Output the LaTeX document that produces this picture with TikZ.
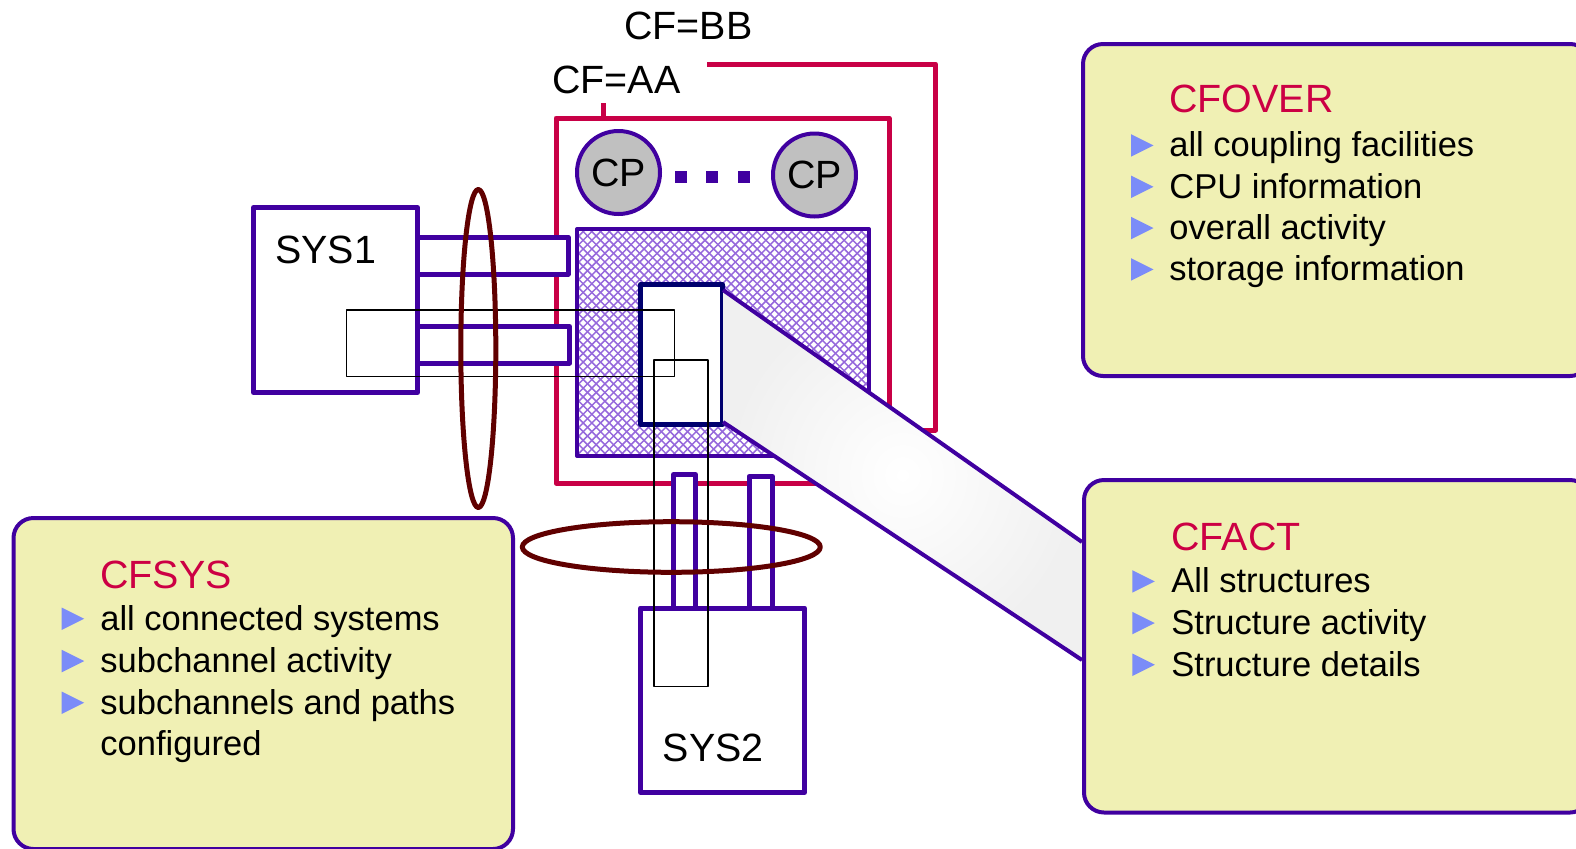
\documentclass[tikz,border=0pt]{standalone}
\usepackage{fontspec}
\setmainfont{Liberation Sans}
\definecolor{pur}{RGB}{64,0,160}
\definecolor{cfred}{RGB}{200,0,70}
\definecolor{titlered}{RGB}{204,0,68}
\definecolor{notefill}{RGB}{240,240,180}
\definecolor{bulblue}{RGB}{123,140,248}
\definecolor{ringred}{RGB}{96,0,0}
\definecolor{navyc}{RGB}{0,0,110}
\definecolor{hatchc}{RGB}{150,105,220}
\definecolor{cpgray}{RGB}{192,192,192}
\tikzset{
  cfline/.style={draw=cfred, line width=2.5pt},
  sysbox/.style={draw=pur, line width=2.5pt, fill=white, inner sep=0pt},
  linkbox/.style={draw=pur, line width=2.5pt, fill=white},
  cpcircle/.style={circle, draw=pur, line width=2pt, fill=cpgray, minimum size=41.5pt, inner sep=0pt, font=\fontsize{19.7pt}{23pt}\selectfont},
  ringline/.style={draw=ringred, line width=2.5pt},
  thinbox/.style={draw=black, line width=0.75pt},
  notebox/.style={draw=pur, line width=2pt, fill=notefill, rounded corners=10pt, inner sep=0pt},
  lbl/.style={inner sep=0pt, anchor=base west, font=\fontsize{19.7pt}{23pt}\selectfont},
  ttlstyle/.style={lbl, text=titlered},
  itemstyle/.style={inner sep=0pt, anchor=base west, font=\fontsize{17.25pt}{20pt}\selectfont},
  hatchline/.style={draw=hatchc, line width=0.75pt},
  bullet/.pic={\fill[bulblue] (0,0) -- (0,-22.5) -- (22.5,-11.25) -- cycle;}
}
\begin{document}
\begin{tikzpicture}[x=0.5pt,y=-0.5pt,line join=round]
\useasboundingbox (0,0) rectangle (1576,848);

% CF=BB outline
\draw[cfline] (707,64) -- (935.5,64) -- (935.5,430) -- (889,430);
% CF=AA box
\draw[cfline] (556,118) rectangle (889,483);
\draw[cfline] (603,103) -- (603,118);

% CPs
\node[cpcircle] (cp1) at (618.5,172.5) {CP};
\node[cpcircle] (cp2) at (814.5,175) {CP};
\foreach \dx in {681,712,744} \fill[pur] (\dx-6,171) rectangle (\dx+6,183);

% hatched storage
\begin{scope}
\clip (577,229) rectangle (869,456);
\fill[white] (577,229) rectangle (869,456);
\foreach \k in {0,...,64} {
  \draw[hatchline] ({337+\k*8.7},229) -- ++(240,240);
  \draw[hatchline] ({577+\k*8.7},229) -- ++(-240,240);
}
\end{scope}
\draw[pur, line width=2pt] (577,229) rectangle (869,456);

% structure
\node[sysbox, draw=navyc, minimum width=41pt, minimum height=70pt] (str) at (681.5,354.5) {};

% funnel
\coordinate (f1) at (723,290);
\coordinate (f2) at (1082,542);
\coordinate (f3) at (1082,660);
\coordinate (f4) at (723,422);
\shade[inner color=white, outer color=gray!12] (f1) -- (f2) -- (f3) -- (f4) -- cycle;
\draw[pur, line width=2pt] (f1) -- (f2) (f4) -- (f3);

% SYS1 links and box
\draw[linkbox] (417.5,237) rectangle (568,274);
\draw[linkbox] (417.5,326.5) rectangle (569.5,363);
\node[sysbox, minimum width=82pt, minimum height=92.5pt] (sys1) at (335.5,300) {};

% SYS2 links and box
\draw[linkbox] (673.5,608) -- (673.5,474.5) -- (695.5,474.5) -- (695.5,608);
\draw[linkbox] (749,608) -- (749,476.5) -- (772.5,476.5) -- (772.5,608);
\node[sysbox, minimum width=82pt, minimum height=92.25pt] (sys2) at (722.5,700.25) {};

% thin black rectangles
\draw[thinbox] (346.7,310) rectangle (674.3,376.5);
\draw[thinbox] (654,360) rectangle (708,686.7);

% rings
\draw[ringline] (478.3,348.5) ellipse [x radius=17.5, y radius=159];
\draw[ringline] (671.3,547) ellipse [x radius=149, y radius=25.3];

% labels
\node[lbl] (sys1t) at (275,263) {SYS1};
\node[lbl] (sys2t) at (662.5,761.7) {SYS2};
\node[lbl] (cfaa) at (552,93.3) {CF=AA};
\node[lbl] (cfbb) at (624,39.3) {CF=BB};

% CFOVER
\node[notebox, minimum width=253.5pt, minimum height=166pt] (cfover) at (1336.5,210) {};
\node[ttlstyle] (cfovert) at (1169,112.7) {CFOVER};
\node[itemstyle] (ov1) at (1169,156.7) {all coupling facilities};
\node[itemstyle] (ov2) at (1169,198) {CPU information};
\node[itemstyle] (ov3) at (1169,239.3) {overall activity};
\node[itemstyle] (ov4) at (1169,280.7) {storage information};
\foreach \yy in {156.7,198,239.3,280.7} \pic at (1131,\yy) {bullet};

% CFACT
\node[notebox, minimum width=253pt, minimum height=166.25pt] (cfact) at (1337,646.25) {};
\node[ttlstyle] (cfactt) at (1171,550) {CFACT};
\node[itemstyle] (ac1) at (1171,592.7) {All structures};
\node[itemstyle] (ac2) at (1171,634.3) {Structure activity};
\node[itemstyle] (ac3) at (1171,676) {Structure details};
\foreach \yy in {592.7,634.3,676} \pic at (1132.3,\yy) {bullet};

% CFSYS
\node[notebox, minimum width=249.75pt, minimum height=165.5pt] (cfsys) at (263.25,683.5) {};
\node[ttlstyle] (cfsyst) at (100,588.3) {CFSYS};
\node[itemstyle] (sy1) at (100,630) {all connected systems};
\node[itemstyle] (sy2) at (100,672.3) {subchannel activity};
\node[itemstyle] (sy3) at (100,714) {subchannels and paths};
\node[itemstyle] (sy4) at (100,755.7) {configured};
\foreach \yy in {630,672.3,714} \pic at (61.7,\yy) {bullet};
\end{tikzpicture}
\end{document}
